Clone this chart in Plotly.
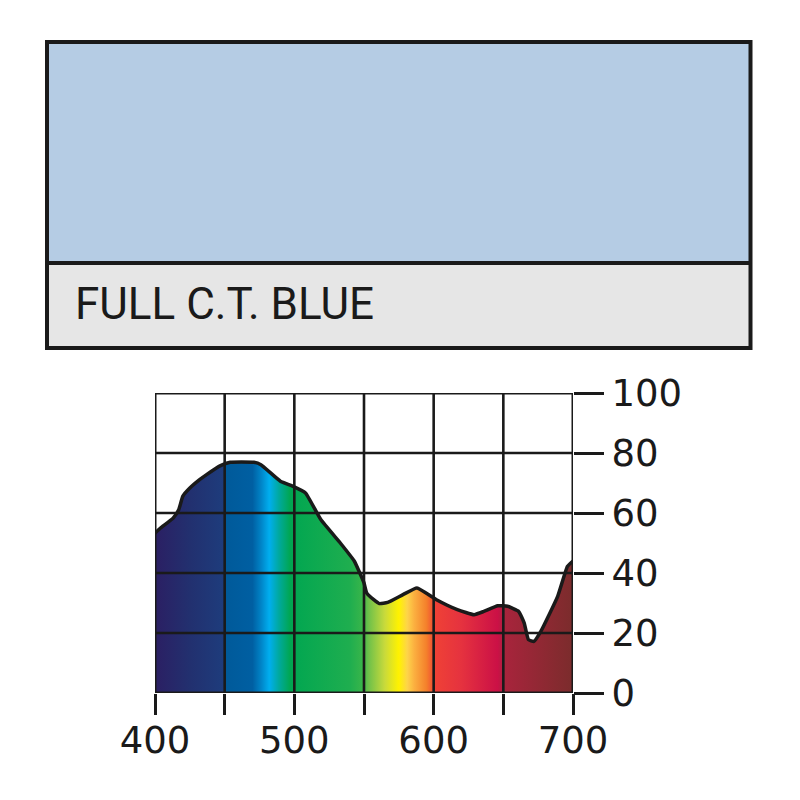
import plotly.graph_objects as go

# ---- data ----
wavelength = [400, 404, 413, 417, 420, 425, 432, 437, 447, 454, 462, 471, 476, 490, 499, 508,
              519, 533, 543, 547, 550, 552, 557, 561, 567, 578, 588, 602, 617, 629, 636, 646,
              653, 661, 665, 668, 672, 677, 689, 696, 700]
transmission = [53.3, 55.0, 58.3, 61.1, 65.6, 68.3, 71.1, 72.8, 75.8, 76.9, 77.0, 76.9, 76.1,
                70.6, 68.9, 66.7, 57.8, 50.0, 44.0, 40.0, 36.7, 33.3, 31.1, 29.8, 30.2, 32.8,
                35.0, 31.1, 27.8, 26.1, 27.2, 29.1, 28.9, 27.2, 23.3, 17.8, 17.2, 20.6, 32.2,
                42.2, 44.0]

x_ticks = [400, 450, 500, 550, 600, 650, 700]
x_tick_labels = ["400", "", "500", "", "600", "", "700"]
y_ticks = [0, 20, 40, 60, 80, 100]
y_tick_labels = ["0", "20", "40", "60", "80", "100"]

spectrum_wl = [400, 425, 449, 451, 470, 476, 482, 489, 497, 540, 549, 553, 565, 575, 581,
               586, 595, 601, 620, 646, 651, 700]
spectrum_col = ["#2B1F63", "#22306F", "#1E3C7C", "#005A9A", "#005FA2", "#0083C6", "#00AEEF",
                "#00A99D", "#00A651", "#1FAE4F", "#39B54A", "#6CC04A", "#C9DA3B", "#FFF200",
                "#FDD44A", "#FBB040", "#F47F2B", "#EF4136", "#E5323F", "#CB1046", "#A8243C",
                "#7B2C2C"]

swatch_color = "#B5CCE4"
label_color = "#E6E6E6"
filter_name = "FULL C.T. BLUE"

W, H = 800, 800


def px_x(p):
    return p / W


def px_y(p):
    return 1 - p / H


colorscale = [[(w - 400) / 300, c] for w, c in zip(spectrum_wl, spectrum_col)]

fig = go.Figure()
fig.add_trace(go.Scatter(
    x=wavelength, y=transmission, mode="lines",
    line=dict(color="#1a1a1a", width=3.5, shape="spline", smoothing=0.4),
    fill="tozeroy",
    fillgradient=dict(type="horizontal", colorscale=colorscale, start=400, stop=700),
    hoverinfo="skip", showlegend=False,
))

shapes = []
# grid drawn above the fill
for xv in x_ticks:
    shapes.append(dict(type="line", xref="x", yref="y", x0=xv, x1=xv, y0=0, y1=100,
                       line=dict(color="#1a1a1a", width=3 if xv in (400, 700) else 2.6),
                       layer="above"))
for yv in y_ticks:
    shapes.append(dict(type="line", xref="x", yref="y", x0=400, x1=700, y0=yv, y1=yv,
                       line=dict(color="#1a1a1a", width=3 if yv in (0, 100) else 2.6),
                       layer="above"))

# swatch and label box
shapes.append(dict(type="rect", xref="paper", yref="paper", x0=px_x(47), x1=px_x(750.5),
                   y0=px_y(263), y1=px_y(42), fillcolor=swatch_color, line=dict(width=0),
                   layer="below"))
shapes.append(dict(type="rect", xref="paper", yref="paper", x0=px_x(47), x1=px_x(750.5),
                   y0=px_y(348), y1=px_y(263), fillcolor=label_color, line=dict(width=0),
                   layer="below"))
shapes.append(dict(type="rect", xref="paper", yref="paper", x0=px_x(47), x1=px_x(750.5),
                   y0=px_y(348), y1=px_y(42), fillcolor="rgba(0,0,0,0)",
                   line=dict(color="#1a1a1a", width=4)))
shapes.append(dict(type="line", xref="paper", yref="paper", x0=px_x(47), x1=px_x(750.5),
                   y0=px_y(263), y1=px_y(263), line=dict(color="#1a1a1a", width=4)))

fig.update_layout(
    width=W, height=H, autosize=False,
    margin=dict(l=0, r=0, t=0, b=0),
    paper_bgcolor="white", plot_bgcolor="white",
    template="none",
    shapes=shapes,
    annotations=[dict(text=filter_name, xref="paper", yref="paper", x=px_x(73), y=px_y(304),
                      xanchor="left", yanchor="middle", showarrow=False,
                      font=dict(family="Roboto", size=44, color="#1a1a1a"))],
    xaxis=dict(domain=[px_x(155), px_x(573)], range=[400, 700], showgrid=False, zeroline=False,
               showline=False, tickmode="array", tickvals=x_ticks, ticktext=x_tick_labels,
               ticks="outside", ticklen=21, tickwidth=2.6, tickcolor="#1a1a1a",
               ticklabelstandoff=-6,
               tickfont=dict(family="DejaVu Sans", size=37, color="#1a1a1a"),
               automargin=False, fixedrange=True),
    yaxis=dict(domain=[px_y(693), px_y(393)], range=[0, 100], side="right", showgrid=False,
               zeroline=False, showline=False, tickmode="array", tickvals=y_ticks,
               ticktext=y_tick_labels, ticks="outside", ticklen=30, tickwidth=2.6,
               tickcolor="#1a1a1a",
               tickfont=dict(family="DejaVu Sans", size=37, color="#1a1a1a"),
               automargin=False, fixedrange=True),
)

fig.write_html("out.html", config=dict(displayModeBar=False),
               post_script="document.body.style.margin='0';")
